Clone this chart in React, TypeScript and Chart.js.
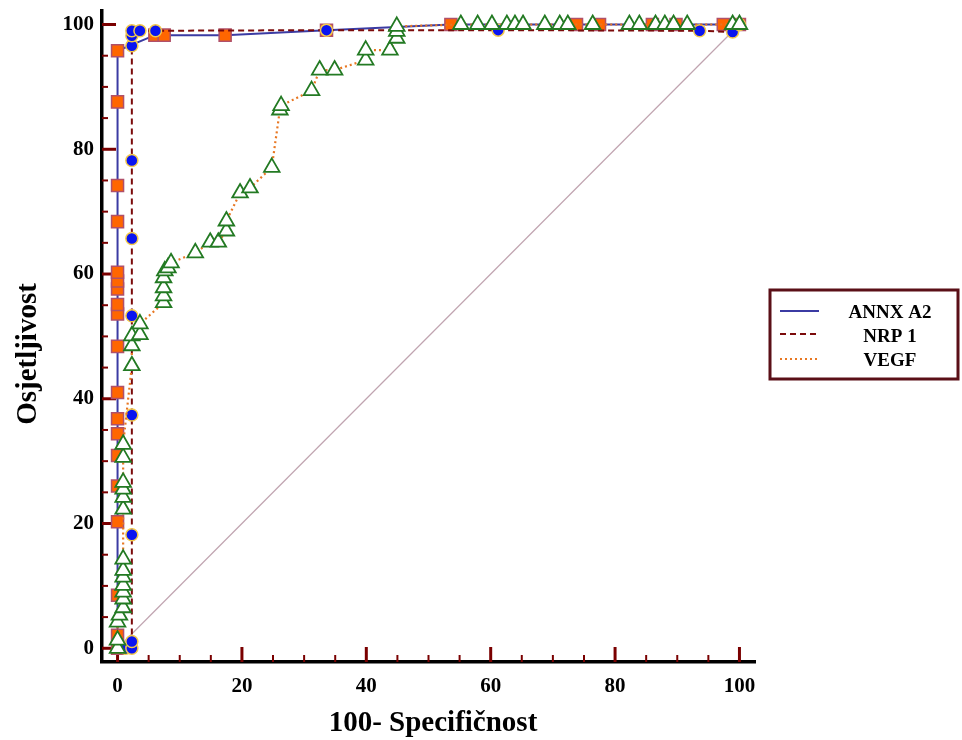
import React, { useEffect, useRef } from 'react';
import { Chart, registerables } from 'chart.js';

Chart.register(...registerables);

// ---- data ----
const seriesNames = ['ANNX A2', 'NRP 1', 'VEGF'];
const xTickValues = [0, 20, 40, 60, 80, 100];
const yTickValues = [0, 20, 40, 60, 80, 100];
const minorTickValues = [0, 5, 10, 15, 20, 25, 30, 35, 40, 45, 50, 55, 60, 65, 70, 75, 80, 85, 90, 95, 100];
const xTitle = '100- Specifičnost';
const yTitle = 'Osjetljivost';

const annxPoints: [number, number][] = [
  [0, 0], [0, 2.1], [0, 8.5], [0, 20.3], [0, 26.0], [0, 30.9], [0, 34.4], [0, 36.8],
  [0, 41.0], [0, 48.4], [0, 53.6], [0, 55.1], [0, 57.6], [0, 58.9], [0, 60.3], [0, 68.4],
  [0, 74.2], [0, 87.6], [0, 95.8], [6.0, 98.3], [7.5, 98.3], [17.3, 98.3], [33.6, 99.1],
  [53.6, 100], [73.8, 100], [77.5, 100], [86.0, 100], [89.8, 100], [97.4, 100], [100, 100],
];

const nrpPoints: [number, number][] = [
  [1.3, 0], [2.3, 0], [2.3, 1.1], [2.3, 18.2], [2.3, 37.4], [2.3, 53.3], [2.3, 65.7],
  [2.3, 78.2], [2.3, 96.6], [2.3, 98.2], [2.3, 99.0], [3.6, 99.0], [6.1, 99.0],
  [33.6, 99.1], [61.2, 99.1], [93.6, 99.0], [98.9, 98.8], [100, 100],
];

const vegfPoints: [number, number][] = [
  [0, 0], [0, 1.3], [0, 4.2], [0.3, 5.3], [0.9, 6.5], [0.9, 7.9], [0.9, 9.0], [0.9, 10.1],
  [0.9, 11.4], [0.9, 12.5], [0.9, 14.3], [0.9, 22.3], [0.9, 24.2], [0.9, 25.5], [0.9, 26.6],
  [0.9, 30.6], [0.9, 32.7], [2.3, 45.3], [2.3, 48.5], [2.3, 50.1], [3.6, 50.3], [3.6, 52.0],
  [7.4, 55.4], [7.4, 56.5], [7.4, 57.8], [7.4, 59.4], [7.6, 60.5], [8.1, 61.0], [8.6, 61.8],
  [12.5, 63.4], [14.9, 65.1], [16.2, 65.1], [17.5, 66.9], [17.5, 68.5], [19.7, 73.0],
  [21.3, 73.8], [24.8, 77.1], [26.1, 86.3], [26.3, 87.0], [31.2, 89.4], [32.5, 92.7],
  [34.9, 92.7], [39.9, 94.3], [39.9, 95.9], [43.8, 95.9], [44.9, 97.8], [44.9, 98.9],
  [44.9, 99.7], [55.2, 100], [57.9, 100], [60.2, 100], [62.6, 100], [63.9, 100], [65.2, 100],
  [68.7, 100], [71.1, 100], [72.4, 100], [76.4, 100], [82.3, 100], [83.9, 100], [86.5, 100],
  [88.0, 100], [89.4, 100], [91.6, 100], [98.9, 100], [100, 100],
];

const diagonalPoints: [number, number][] = [[0, 0], [100, 100]];

const toXY = (pts: [number, number][]) => pts.map(([x, y]) => ({ x, y }));

const SERIF = "'Liberation Serif', 'Times New Roman', serif";

const decorPlugin = {
  id: 'decor',
  beforeDatasetsDraw(chart: any) {
    const { ctx, chartArea, scales } = chart;
    ctx.save();
    ctx.strokeStyle = '#7a0000';
    for (const v of minorTickValues) {
      const major = v % 20 === 0;
      ctx.lineWidth = major ? 3 : 2;
      const px = scales.x.getPixelForValue(v);
      ctx.beginPath();
      ctx.moveTo(px, chartArea.bottom);
      ctx.lineTo(px, chartArea.bottom - (major ? 15 : 7));
      ctx.stroke();
      const py = scales.y.getPixelForValue(v);
      ctx.beginPath();
      ctx.moveTo(chartArea.left, py);
      ctx.lineTo(chartArea.left + (major ? 14 : 6), py);
      ctx.stroke();
    }
    ctx.restore();
  },
  afterDraw(chart: any) {
    const { ctx } = chart;
    ctx.save();
    // axis titles
    ctx.fillStyle = '#000';
    ctx.font = `bold 29px ${SERIF}`;
    ctx.textAlign = 'center';
    ctx.textBaseline = 'alphabetic';
    ctx.fillText(xTitle, 433, 731);
    ctx.translate(36, 354);
    ctx.rotate(-Math.PI / 2);
    ctx.fillText(yTitle, 0, 0);
    ctx.restore();

    // legend
    ctx.save();
    ctx.strokeStyle = '#5a0f17';
    ctx.lineWidth = 3;
    ctx.strokeRect(770, 290, 188, 89);
    const lineYs = [311, 334, 359];
    const textYs = [313, 337, 361];
    seriesNames.forEach((name, i) => {
      const ds = chart.data.datasets[i];
      ctx.save();
      ctx.strokeStyle = ds.borderColor;
      ctx.lineWidth = 2;
      ctx.setLineDash(ds.borderDash || []);
      ctx.beginPath();
      ctx.moveTo(780, lineYs[i]);
      ctx.lineTo(819, lineYs[i]);
      ctx.stroke();
      ctx.restore();
      ctx.fillStyle = '#000';
      ctx.font = `bold 19px ${SERIF}`;
      ctx.textAlign = 'center';
      ctx.textBaseline = 'middle';
      ctx.fillText(name, 890, textYs[i]);
    });
    ctx.restore();
  },
};

export default function App() {
  const canvasRef = useRef<HTMLCanvasElement | null>(null);

  useEffect(() => {
    if (!canvasRef.current) return;
    const chart = new Chart(canvasRef.current, {
      type: 'scatter',
      data: {
        datasets: [
          {
            label: seriesNames[0],
            data: toXY(annxPoints),
            showLine: true,
            borderColor: '#3b3ba3',
            borderWidth: 2,
            pointStyle: 'rect',
            pointRadius: 8.5,
            pointHoverRadius: 8.5,
            pointBackgroundColor: '#ff6600',
            pointBorderColor: '#b0506a',
            pointBorderWidth: 1.5,
            order: 3,
          },
          {
            label: seriesNames[1],
            data: toXY(nrpPoints),
            showLine: true,
            borderColor: '#7b0a0a',
            borderWidth: 2,
            borderDash: [6, 4],
            pointStyle: 'circle',
            pointRadius: 6,
            pointHoverRadius: 6,
            pointBackgroundColor: '#0a14f0',
            pointBorderColor: '#f2c94c',
            pointBorderWidth: 1.5,
            order: 2,
          },
          {
            label: seriesNames[2],
            data: toXY(vegfPoints),
            showLine: true,
            borderColor: '#e87722',
            borderWidth: 2.2,
            borderDash: [2, 3],
            pointStyle: 'triangle',
            pointRadius: 9,
            pointHoverRadius: 9,
            pointBackgroundColor: '#ffffff',
            pointBorderColor: '#237a23',
            pointBorderWidth: 1.8,
            order: 1,
          },
          {
            label: 'diagonal',
            data: toXY(diagonalPoints),
            showLine: true,
            borderColor: '#c0a4b0',
            borderWidth: 1.2,
            pointRadius: 0,
            order: 4,
          },
        ],
      },
      options: {
        responsive: false,
        animation: false,
        layout: { padding: { left: 0, right: 207, top: 10, bottom: 0 } },
        plugins: { legend: { display: false }, tooltip: { enabled: false } },
        scales: {
          x: {
            type: 'linear',
            min: -2.5,
            max: 102.5,
            grid: { display: false, drawTicks: false },
            border: { display: true, color: '#000', width: 3.5 },
            afterBuildTicks: (scale: any) => {
              scale.ticks = xTickValues.map((v) => ({ value: v }));
            },
            afterFit: (scale: any) => {
              scale.height = 78;
              scale.paddingLeft = 0;
              scale.paddingRight = 0;
            },
            ticks: {
              color: '#000',
              padding: 12,
              maxRotation: 0,
              autoSkip: false,
              font: { family: SERIF, size: 21, weight: 'bold' },
            },
          },
          y: {
            type: 'linear',
            min: -2.2,
            max: 102.2,
            grid: { display: false, drawTicks: false },
            border: { display: true, color: '#000', width: 3.5 },
            afterBuildTicks: (scale: any) => {
              scale.ticks = yTickValues.map((v) => ({ value: v }));
            },
            afterFit: (scale: any) => {
              scale.width = 102;
              scale.paddingTop = 0;
              scale.paddingBottom = 0;
            },
            ticks: {
              color: '#000',
              padding: 8,
              autoSkip: false,
              font: { family: SERIF, size: 21, weight: 'bold' },
            },
          },
        },
      },
      plugins: [decorPlugin],
    } as any);
    return () => chart.destroy();
  }, []);

  return (
    <div style={{ position: 'absolute', left: 0, top: 0, width: 962, height: 740, background: '#fff' }}>
      <canvas ref={canvasRef} width={962} height={740} style={{ display: 'block' }} />
    </div>
  );
}
